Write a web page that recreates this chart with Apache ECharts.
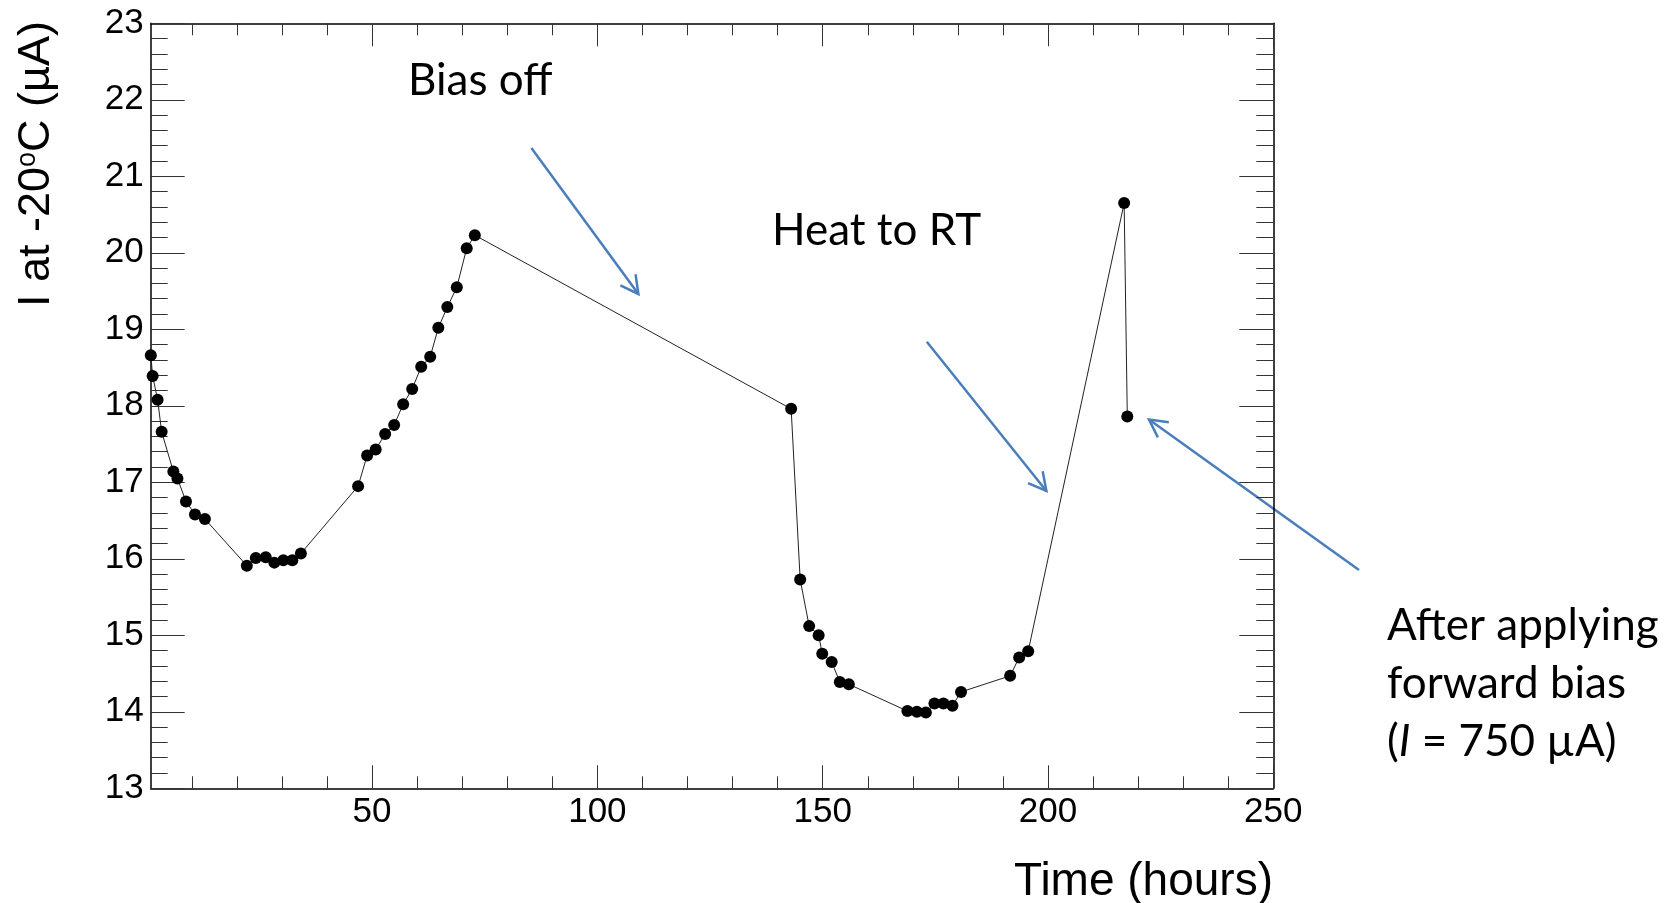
<!DOCTYPE html>
<html>
<head>
<meta charset="utf-8">
<script src="https://cdn.jsdelivr.net/npm/echarts@6/dist/echarts.min.js"></script>
<style>
html,body{margin:0;padding:0;background:#fff;}
#chart{width:1680px;height:903px;}
</style>
</head>
<body>
<div id="chart"></div>
<script>
// ---- data ----
const timeHours = [0.9, 1.3, 2.4, 3.3, 5.9, 6.8, 8.7, 10.7, 12.9, 22.2, 24.2, 26.4, 28.3, 30.3, 32.3, 34.2,
  46.9, 48.9, 50.8, 52.9, 54.9, 56.9, 58.9, 60.9, 62.9, 64.7, 66.7, 68.8, 71.0, 72.8,
  143.0, 145.0, 147.0, 149.1, 149.9, 152.0, 153.8, 155.8,
  168.8, 170.9, 172.9, 174.8, 176.8, 178.8, 180.7,
  191.6, 193.6, 195.6, 216.9, 217.6];
const currentUA = [18.66, 18.39, 18.08, 17.66, 17.14, 17.05, 16.75, 16.58, 16.52, 15.91, 16.01, 16.02, 15.95, 15.98, 15.98, 16.07,
  16.95, 17.35, 17.43, 17.63, 17.75, 18.02, 18.22, 18.51, 18.64, 19.02, 19.29, 19.55, 20.06, 20.23,
  17.96, 15.73, 15.12, 15.00, 14.76, 14.65, 14.39, 14.36,
  14.01, 14.00, 13.99, 14.11, 14.11, 14.08, 14.26,
  14.47, 14.71, 14.79, 20.65, 17.86];
const xMajorTicks = [50, 100, 150, 200, 250];
const xMinorTicks = [10, 20, 30, 40, 60, 70, 80, 90, 110, 120, 130, 140, 160, 170, 180, 190, 210, 220, 230, 240];
const xRange = [0.87, 250];
const yRange = [13, 23];
const yStep = 1;
const xTitle = 'Time (hours)';
const yTitleParts = ['I at -20', 'o', 'C (µA)'];
const noteBias = 'Bias off';
const noteHeat = 'Heat to RT';
const noteFwd = ['After applying', 'forward bias', '= 750 µA)'];

// ---- layout ----
const G = {left: 150.7, right: 406.7, top: 23.3, bottom: 114.7};
const AX = '#000';
const TK = '#333';
const LBL = 'Liberation Sans, Arial, sans-serif';
const NOTE = 'Lato, sans-serif';
const NOTE_SIZE = 44;
const BLUE = '#4a7ebb';

const chart = echarts.init(document.getElementById('chart'), null, {renderer: 'canvas'});

function xAxisCfg(grid, pos, ticks, len, showLine, showLabel) {
  return {
    gridIndex: grid, type: 'value', position: pos, min: xRange[0], max: xRange[1],
    axisLine: {show: showLine, onZero: false, lineStyle: {color: AX, width: 1.5}},
    axisTick: {show: true, inside: true, length: len, customValues: ticks, lineStyle: {color: TK, width: 1}},
    axisLabel: {show: showLabel, customValues: ticks, margin: 7, color: '#000', fontFamily: LBL, fontSize: 35},
    minorTick: {show: false}, splitLine: {show: false}
  };
}
function yAxisCfg(pos, showLabel) {
  return {
    gridIndex: 0, type: 'value', position: pos, min: yRange[0], max: yRange[1], interval: yStep,
    axisLine: {show: true, onZero: false, lineStyle: {color: AX, width: 1.5}},
    axisTick: {show: true, inside: true, length: 34, lineStyle: {color: TK, width: 1}},
    minorTick: {show: true, splitNumber: 5, length: 17, lineStyle: {color: TK, width: 1}},
    axisLabel: {show: showLabel, margin: 7, color: '#000', fontFamily: LBL, fontSize: 35},
    splitLine: {show: false}
  };
}

function arrow(start, tip) {
  const dx = tip[0] - start[0], dy = tip[1] - start[1];
  const L = Math.hypot(dx, dy), ux = -dx / L, uy = -dy / L;
  const a = 28 * Math.PI / 180, h = 20;
  const w1 = [tip[0] + h * (ux * Math.cos(a) - uy * Math.sin(a)), tip[1] + h * (ux * Math.sin(a) + uy * Math.cos(a))];
  const w2 = [tip[0] + h * (ux * Math.cos(-a) - uy * Math.sin(-a)), tip[1] + h * (ux * Math.sin(-a) + uy * Math.cos(-a))];
  return [
    {type: 'polyline', shape: {points: [start, tip]}, style: {stroke: BLUE, lineWidth: 2.5, fill: null}},
    {type: 'polyline', shape: {points: [w1, tip, w2]}, style: {stroke: BLUE, lineWidth: 2.5, fill: null}}
  ];
}
function note(text, x, y, rich) {
  return {type: 'text', x: x, y: y, style: {text: text, fontFamily: NOTE, fontSize: NOTE_SIZE, fill: '#000',
    align: 'left', verticalAlign: 'middle', textAlign: 'left', textVerticalAlign: 'middle', rich: rich}};
}

const gridRect = {left: G.left, right: G.right, top: G.top, bottom: G.bottom, containLabel: false, outerBoundsMode: 'none'};

const option = {
  animation: false,
  backgroundColor: '#fff',
  grid: [Object.assign({}, gridRect), Object.assign({}, gridRect)],
  xAxis: [
    xAxisCfg(0, 'bottom', xMajorTicks, 23, true, true),
    xAxisCfg(0, 'top', xMajorTicks, 23, true, false),
    xAxisCfg(1, 'bottom', xMinorTicks, 12, false, false),
    xAxisCfg(1, 'top', xMinorTicks, 12, false, false)
  ],
  yAxis: [
    yAxisCfg('left', true),
    yAxisCfg('right', false),
    {gridIndex: 1, type: 'value', show: false, min: yRange[0], max: yRange[1]}
  ],
  series: [{
    type: 'line', xAxisIndex: 0, yAxisIndex: 0,
    data: timeHours.map((t, i) => [t, currentUA[i]]),
    symbol: 'circle', symbolSize: 12, clip: false,
    itemStyle: {color: '#000'},
    lineStyle: {color: '#222', width: 1}
  }],
  graphic: [].concat(
    arrow([531.4, 147.9], [638.4, 294]),
    arrow([926.8, 341.7], [1046.4, 491]),
    arrow([1359, 570], [1149, 419.5]),
    [
      note(noteBias, 408, 81),
      note(noteHeat, 772, 231),
      note(noteFwd[0], 1387, 625.5),
      note(noteFwd[1], 1387, 683.5),
      note('({it|I} ' + noteFwd[2], 1387, 742, {it: {fontFamily: NOTE, fontSize: NOTE_SIZE, fontStyle: 'italic', fill: '#000'}}),
      {type: 'text', x: 1273, y: 882.5, style: {text: xTitle, fontFamily: LBL, fontSize: 46, fill: '#000',
        align: 'right', verticalAlign: 'middle', textAlign: 'right', textVerticalAlign: 'middle'}},
      {type: 'text', x: 37, y: 21, rotation: Math.PI / 2,
        style: {text: yTitleParts[0] + '{sup|' + yTitleParts[1] + '}' + yTitleParts[2], fontFamily: LBL, fontSize: 45, fill: '#000',
          align: 'right', verticalAlign: 'middle', textAlign: 'right', textVerticalAlign: 'middle',
          rich: {sup: {fontFamily: LBL, fontSize: 27, verticalAlign: 'top', fill: '#000'}}}}
    ]
  )
};
chart.setOption(option);
</script>
</body>
</html>
